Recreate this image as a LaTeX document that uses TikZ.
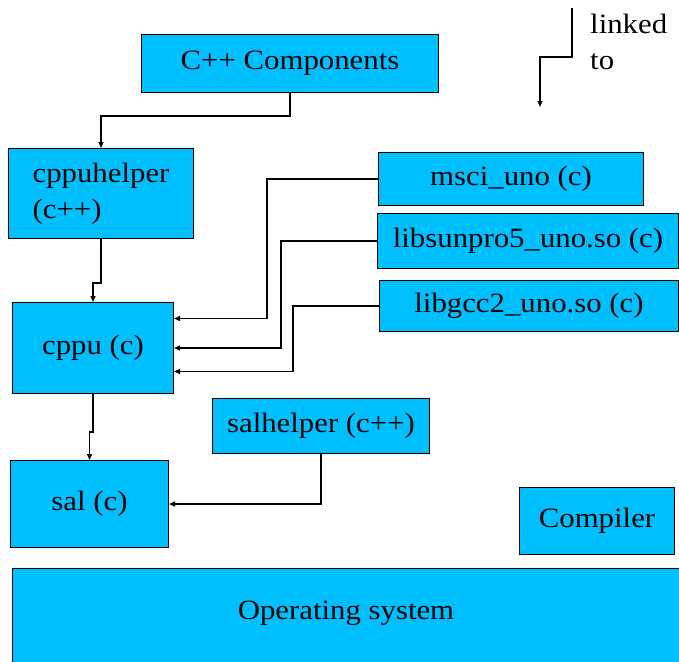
\documentclass[tikz,border=0pt]{standalone}
\usepackage{fontspec}
\usepackage{tikz}
\usetikzlibrary{arrows.meta, positioning, calc}
\setmainfont[FakeStretch=1.1]{Liberation Serif}
\definecolor{compblue}{HTML}{00BFFF}
\newcommand{\dfont}{\rmfamily\fontsize{28}{36}\selectfont}
\begin{document}
\begin{tikzpicture}[
    x=1pt, y=-1pt,
    comp/.style={
        rectangle, draw=black, fill=compblue, line width=1pt,
        anchor=north west, inner sep=0pt, font=\dfont
    },
    arrow/.style={-{Triangle[length=6pt,width=5pt]}, line width=1.2pt}
]
\useasboundingbox (0,0) rectangle (679,661);

% components
\node[comp, minimum width=297pt, minimum height=58pt] (cpp) at (141,34) {C++ Components};
\node[comp, minimum width=185pt, minimum height=90pt, align=left] (helper) at (8,148) {cppuhelper\\(c++)};
\node[comp, minimum width=161pt, minimum height=91pt] (cppu) at (12,302) {cppu (c)};
\node[comp, minimum width=158pt, minimum height=87pt] (sal) at (10,460) {sal (c)};
\node[comp, minimum width=217pt, minimum height=55pt] (salh) at (212,398) {salhelper (c++)};
\node[comp, minimum width=265pt, minimum height=53pt] (msci) at (378,152) {msci\_uno (c)};
\node[comp, minimum width=301pt, minimum height=55pt] (sunpro) at (377,213) {libsunpro5\_uno.so (c)};
\node[comp, minimum width=299pt, minimum height=51pt] (gcc) at (379,280) {libgcc2\_uno.so (c)};
\node[comp, minimum width=155pt, minimum height=67pt] (compiler) at (519,487) {Compiler};
\node[comp, minimum width=690pt, minimum height=110pt] (os) at (12,568) {};
\node[font=\dfont] (ostext) at (346,613) {Operating system};

% legend
\coordinate (lgtop) at (572,8);
\coordinate (lgend) at (540,107);
\node[anchor=north west, align=left, inner sep=0pt, font=\dfont] (lgtext) at (590,14) {linked\\to};

% links
\draw[arrow] (cpp.south) -- ++(0,23) -| (helper.north);
\draw[arrow] (helper.south) -- ++(0,44) -| (cppu.north);
\draw[arrow] (cppu.south) -- ++(0,38) -| (sal.north);
\draw[arrow] (msci.west) -- ++(-111,0) |- ([yshift=29.5pt]cppu.east);
\draw[arrow] (sunpro.west) -- ++(-96,0) |- (cppu.east);
\draw[arrow] (gcc.west) -- ++(-86,0) |- ([yshift=-23.5pt]cppu.east);
\draw[arrow] (salh.south) |- (sal.east);
\draw[arrow] (lgtop) -- (572,57) -| (lgend);

\end{tikzpicture}
\end{document}
